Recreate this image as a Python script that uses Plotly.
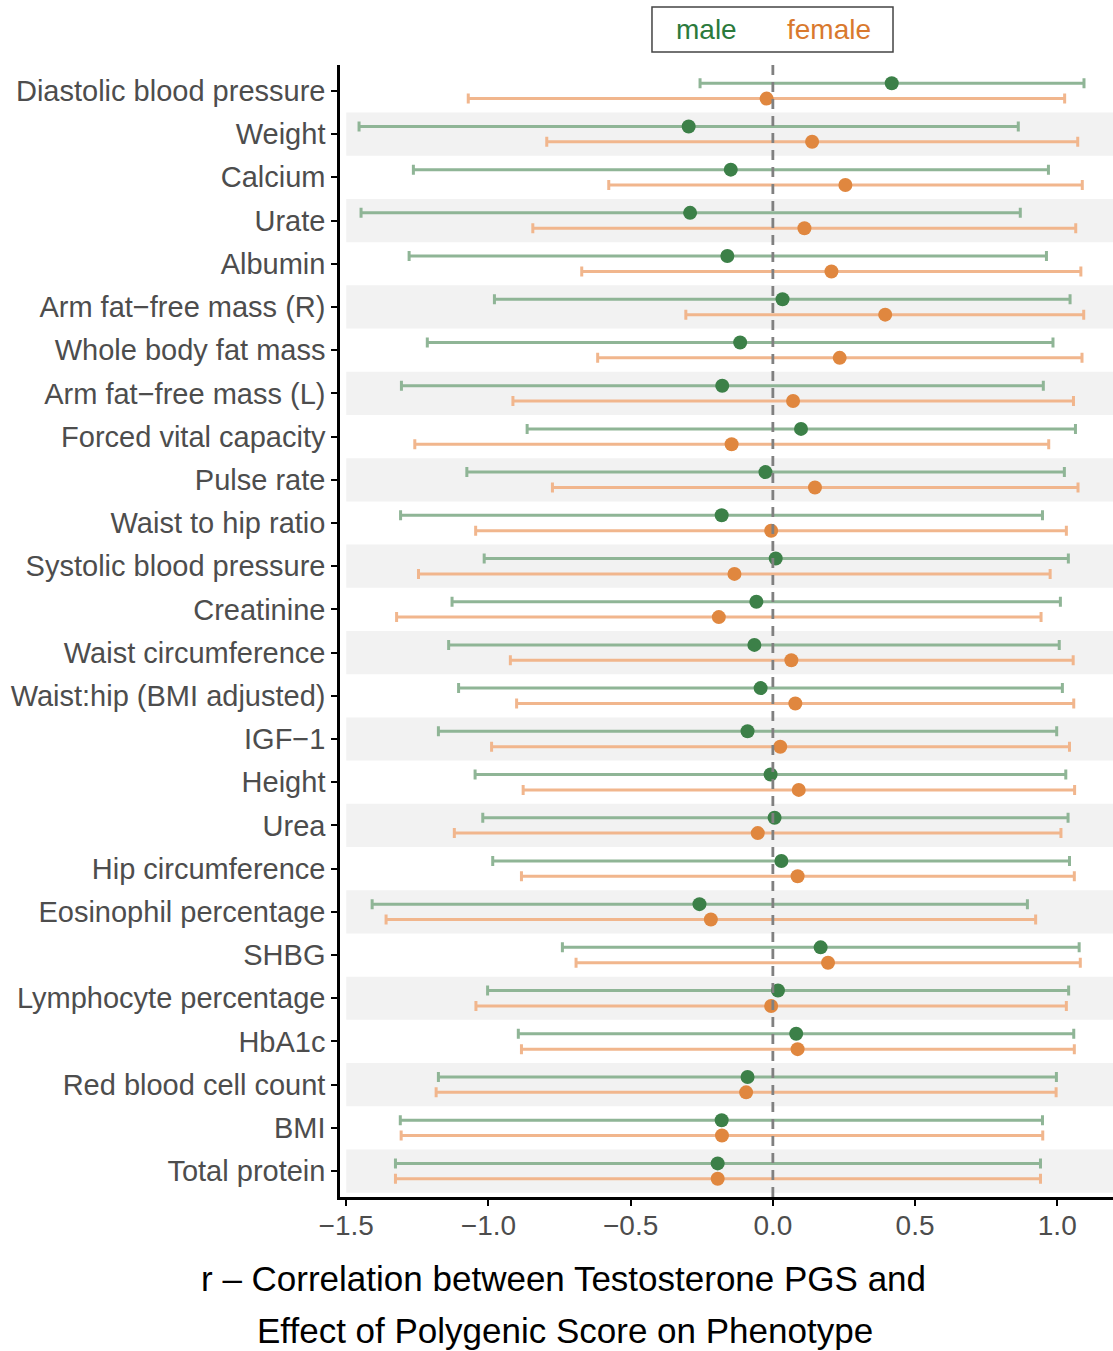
import plotly.graph_objects as go

categories = ["Diastolic blood pressure", "Weight", "Calcium", "Urate", "Albumin",
              "Arm fat\u2212free mass (R)", "Whole body fat mass", "Arm fat\u2212free mass (L)",
              "Forced vital capacity", "Pulse rate", "Waist to hip ratio",
              "Systolic blood pressure", "Creatinine", "Waist circumference",
              "Waist:hip (BMI adjusted)", "IGF\u22121", "Height", "Urea", "Hip circumference",
              "Eosinophil percentage", "SHBG", "Lymphocyte percentage", "HbA1c",
              "Red blood cell count", "BMI", "Total protein"]

male_r = [0.418, -0.296, -0.148, -0.291, -0.160, 0.034, -0.115, -0.178, 0.099, -0.026,
          -0.180, 0.010, -0.058, -0.065, -0.043, -0.089, -0.008, 0.006, 0.030, -0.258,
          0.168, 0.018, 0.082, -0.089, -0.180, -0.194]
male_lo = [-0.256, -1.455, -1.264, -1.448, -1.279, -0.979, -1.215, -1.306, -0.864, -1.076,
           -1.309, -1.015, -1.128, -1.140, -1.105, -1.176, -1.047, -1.020, -0.985, -1.409,
           -0.740, -1.003, -0.895, -1.176, -1.310, -1.327]
male_hi = [1.094, 0.863, 0.969, 0.870, 0.962, 1.045, 0.985, 0.951, 1.064, 1.025,
           0.948, 1.039, 1.011, 1.007, 1.018, 0.998, 1.030, 1.038, 1.043, 0.895,
           1.077, 1.040, 1.058, 0.997, 0.948, 0.941]
female_r = [-0.022, 0.138, 0.255, 0.111, 0.206, 0.395, 0.235, 0.071, -0.145, 0.148,
            -0.006, -0.135, -0.190, 0.065, 0.079, 0.026, 0.091, -0.053, 0.087, -0.218,
            0.194, -0.006, 0.087, -0.094, -0.179, -0.194]
female_lo = [-1.071, -0.795, -0.577, -0.844, -0.672, -0.306, -0.616, -0.914, -1.259, -0.775,
             -1.045, -1.246, -1.323, -0.923, -0.901, -0.989, -0.878, -1.120, -0.884, -1.360,
             -0.692, -1.044, -0.884, -1.184, -1.307, -1.327]
female_hi = [1.026, 1.072, 1.088, 1.065, 1.083, 1.093, 1.087, 1.057, 0.970, 1.073,
             1.032, 0.975, 0.943, 1.056, 1.058, 1.043, 1.061, 1.013, 1.060, 0.924,
             1.081, 1.032, 1.060, 0.996, 0.949, 0.941]

x_ticks = [-1.5, -1.0, -0.5, 0.0, 0.5, 1.0]
x_ticktext = ["\u22121.5", "\u22121.0", "\u22120.5", "0.0", "0.5", "1.0"]
x_title = ["r \u2013 Correlation between Testosterone PGS and",
           "Effect of Polygenic Score on Phenotype"]
legend_labels = ["male", "female"]

n = len(categories)
ypos = [n - i for i in range(n)]
dodge = 0.178

FONT = "Liberation Sans, Arial, Helvetica, sans-serif"
male_pt, male_bar = "#3c8048", "#8fb596"
fem_pt, fem_bar = "#e0873f", "#f1b68d"

fig = go.Figure()

fig.add_trace(go.Scatter(
    x=male_r, y=[y + dodge for y in ypos], mode="markers",
    marker=dict(size=14, color=male_pt),
    error_x=dict(type="data", symmetric=False,
                 array=[h - r for h, r in zip(male_hi, male_r)],
                 arrayminus=[r - l for r, l in zip(male_r, male_lo)],
                 color=male_bar, thickness=3, width=5),
    showlegend=False, name="male"))

fig.add_trace(go.Scatter(
    x=female_r, y=[y - dodge for y in ypos], mode="markers",
    marker=dict(size=14, color=fem_pt),
    error_x=dict(type="data", symmetric=False,
                 array=[h - r for h, r in zip(female_hi, female_r)],
                 arrayminus=[r - l for r, l in zip(female_r, female_lo)],
                 color=fem_bar, thickness=3, width=5),
    showlegend=False, name="female"))

shapes = []
for i, y in enumerate(ypos):
    if i % 2 == 1:
        shapes.append(dict(type="rect", xref="x", yref="y", x0=-1.5, x1=1.4,
                           y0=y - 0.5, y1=y + 0.5, fillcolor="#f2f2f2",
                           line=dict(width=0), layer="below"))
shapes.append(dict(type="line", xref="x", yref="y", x0=0, x1=0, y0=0.4, y1=26.6,
                   line=dict(color="#808080", width=2.8, dash="10px,7px"), layer="above"))
# legend box
shapes.append(dict(type="rect", xref="paper", yref="paper",
                   x0=0.4036, x1=0.7154, y0=1.0115, y1=1.0512,
                   line=dict(color="#444444", width=1.5), fillcolor="white"))

annotations = [
    dict(text=x_title[0], xref="paper", yref="paper", x=0.289, y=-0.0724,
         showarrow=False, font=dict(size=35, color="black", family=FONT),
         xanchor="center", yanchor="middle"),
    dict(text=x_title[1], xref="paper", yref="paper", x=0.291, y=-0.1175,
         showarrow=False, font=dict(size=35, color="black", family=FONT),
         xanchor="center", yanchor="middle"),
    dict(text=legend_labels[0], xref="paper", yref="paper", x=0.4735, y=1.0318,
         showarrow=False, font=dict(size=28, color="#2b7a3c", family=FONT),
         xanchor="center", yanchor="middle"),
    dict(text=legend_labels[1], xref="paper", yref="paper", x=0.6326, y=1.0318,
         showarrow=False, font=dict(size=28, color="#d9792e", family=FONT),
         xanchor="center", yanchor="middle"),
]

fig.update_layout(
    width=1113, height=1351,
    margin=dict(l=340, r=0, t=65, b=154),
    paper_bgcolor="white", plot_bgcolor="white",
    font=dict(family=FONT),
    shapes=shapes, annotations=annotations,
    xaxis=dict(range=[-1.522, 1.196], tickvals=x_ticks, ticktext=x_ticktext,
               showgrid=False, zeroline=False, showline=True, linecolor="black",
               linewidth=2.5, ticks="outside", ticklen=6, tickwidth=2, tickcolor="black",
               ticklabelstandoff=-4,
               tickfont=dict(size=28, color="#4d4d4d", family=FONT)),
    yaxis=dict(range=[0.4, 26.6], tickvals=ypos, ticktext=categories,
               showgrid=False, zeroline=False, showline=True, linecolor="black",
               linewidth=2.5, ticks="outside", ticklen=6, tickwidth=2, tickcolor="black",
               tickfont=dict(size=29, color="#4d4d4d", family=FONT)),
)

fig.write_html("out.html")
